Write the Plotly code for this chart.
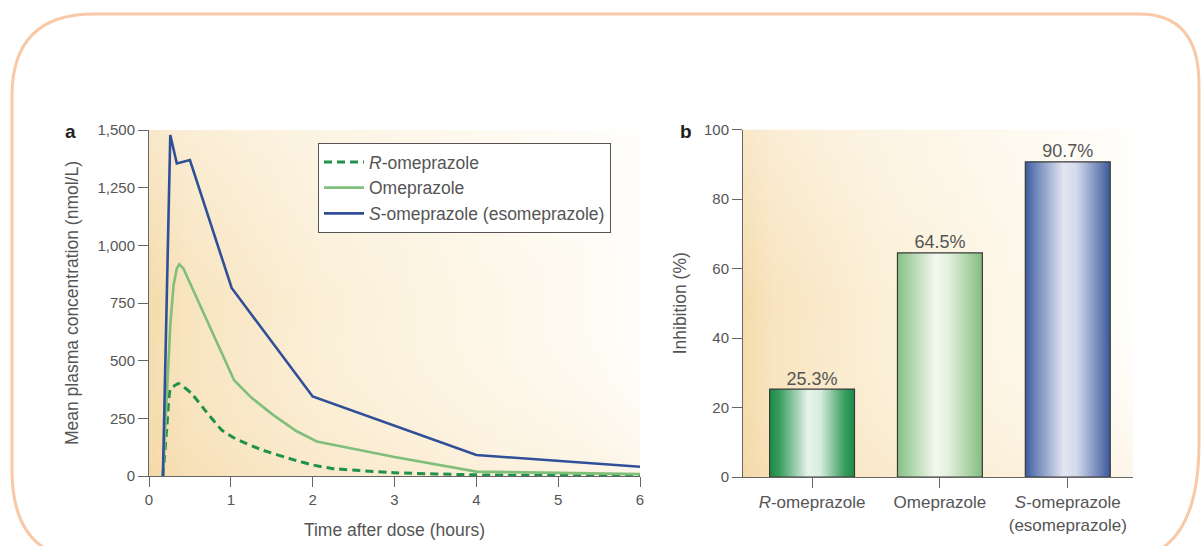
import base64
import plotly.graph_objects as go

W, H = 1201, 546

# ---------------- data ----------------
# Panel a: mean plasma concentration (nmol/L) vs time after dose (hours)
t_r = [0.17, 0.22, 0.26, 0.36, 0.52, 0.70, 0.89, 1.05, 1.38, 1.78, 2.0, 2.23, 3.0, 4.0, 5.0, 6.0]
c_r = [0, 220, 375, 401, 358, 278, 199, 163, 113, 69, 48, 33, 14, 5, 2, 0]

t_o = [0.17, 0.22, 0.26, 0.30, 0.34, 0.37, 0.42, 1.04, 1.25, 1.52, 1.8, 2.05, 3.0, 4.0, 5.0, 6.0]
c_o = [0, 380, 654, 826, 900, 918, 900, 415, 340, 264, 195, 150, 82, 19, 12, 8]

t_s = [0.17, 0.26, 0.34, 0.5, 1.01, 2.0, 4.0, 6.0]
c_s = [0, 1478, 1355, 1370, 815, 345, 91, 40]

series_names = ["<i>R</i>-omeprazole", "Omeprazole", "<i>S</i>-omeprazole (esomeprazole)"]

x_ticks_a = [0, 1, 2, 3, 4, 5, 6]
y_ticks_a = [0, 250, 500, 750, 1000, 1250, 1500]

# Panel b: inhibition (%)
bar_categories = ["<i>R</i>-omeprazole", "Omeprazole", "<i>S</i>-omeprazole<br>(esomeprazole)"]
bar_values = [25.3, 64.5, 90.7]
bar_labels = ["25.3%", "64.5%", "90.7%"]
y_ticks_b = [0, 20, 40, 60, 80, 100]

# ---------------- styling ----------------
FONT = "Liberation Sans, Arial, Helvetica, sans-serif"
TXT = "#555555"
AX = "#666666"

def px(x):
    return x / W

def py(y):
    return 1 - y / H

dom_ax = [px(149), px(640)]
dom_ay = [py(476), py(130)]
dom_bx = [px(743), px(1133)]
dom_by = [py(477), py(129.5)]

fig = go.Figure()

# panel a lines
fig.add_trace(go.Scatter(x=t_r, y=c_r, mode="lines", name=series_names[0],
                         line=dict(color="#1f9148", width=3, dash="8px,5px", shape="spline", smoothing=0.4),
                         xaxis="x", yaxis="y"))
fig.add_trace(go.Scatter(x=t_o, y=c_o, mode="lines", name=series_names[1],
                         line=dict(color="#7fbf7b", width=2.6),
                         xaxis="x", yaxis="y"))
fig.add_trace(go.Scatter(x=t_s, y=c_s, mode="lines", name=series_names[2],
                         line=dict(color="#2f4f98", width=2.6),
                         xaxis="x", yaxis="y"))

# panel b bars (gradient-filled rectangles built from the values)
bar_scales = [
    [[0, "#1b8a48"], [0.12, "#3a9e5e"], [0.45, "#e6f3ea"], [0.6, "#d7ecdd"], [0.88, "#3a9e5e"], [1, "#1b8a48"]],
    [[0, "#86c083"], [0.12, "#a3d0a0"], [0.45, "#f2f8ee"], [0.6, "#e3f0df"], [0.88, "#9fcd9b"], [1, "#82bd7f"]],
    [[0, "#3c5b9c"], [0.12, "#6d84b8"], [0.45, "#e2e6f2"], [0.6, "#d4daec"], [0.88, "#6a81b5"], [1, "#3a5899"]],
]
half_w = 0.332
for i, v in enumerate(bar_values):
    fig.add_trace(go.Scatter(
        x=[i - half_w, i - half_w, i + half_w, i + half_w, i - half_w],
        y=[0, v, v, 0, 0],
        mode="lines", fill="toself",
        fillgradient=dict(type="horizontal", colorscale=bar_scales[i]),
        line=dict(color="#3a3a3a", width=1.2),
        showlegend=False, hoverinfo="skip",
        xaxis="x2", yaxis="y2"))

fig.add_trace(go.Scatter(x=[0, 1, 2], y=bar_values, mode="text", text=bar_labels,
                         textposition="top center",
                         textfont=dict(family=FONT, size=18, color=TXT),
                         showlegend=False, hoverinfo="skip", xaxis="x2", yaxis="y2"))

# background gradient (SVG data URI)
svg = ("<svg xmlns='http://www.w3.org/2000/svg' width='200' height='200' viewBox='0 0 200 200' preserveAspectRatio='none'>"
       "<defs><linearGradient id='g' x1='0' y1='0' x2='1' y2='0'>"
       "<stop offset='0' stop-color='#f5dbab'/>"
       "<stop offset='0.08' stop-color='#f8e4bf'/>"
       "<stop offset='0.35' stop-color='#fbefd6'/>"
       "<stop offset='0.65' stop-color='#fdf6e6'/>"
       "<stop offset='0.9' stop-color='#fefbf3'/>"
       "<stop offset='1' stop-color='#fffefb'/>"
       "</linearGradient>"
       "<linearGradient id='v' x1='0' y1='0' x2='0' y2='1'>"
       "<stop offset='0' stop-color='#ffffff' stop-opacity='0.35'/>"
       "<stop offset='0.5' stop-color='#ffffff' stop-opacity='0'/>"
       "<stop offset='1' stop-color='#f3cf98' stop-opacity='0.18'/>"
       "</linearGradient></defs>"
       "<rect width='200' height='200' fill='url(#g)'/>"
       "<rect width='200' height='200' fill='url(#v)'/></svg>")
src = "data:image/svg+xml;base64," + base64.b64encode(svg.encode()).decode()

images = []
for dx, dy in [(dom_ax, dom_ay), (dom_bx, dom_by)]:
    images.append(dict(source=src, xref="paper", yref="paper", x=dx[0], y=dy[1],
                       sizex=dx[1] - dx[0], sizey=dy[1] - dy[0], sizing="stretch",
                       xanchor="left", yanchor="top", layer="below"))

# rounded border
def P(x, y):
    return f"{px(x):.5f},{py(y):.5f}"

x0, x1, y0, y1 = 12, 1199, 14, 560
path = ("M " + P(x0 + 82, y0) + " L " + P(x1 - 60, y0) +
        " Q " + P(x1, y0) + " " + P(x1, y0 + 70) +
        " L " + P(x1, 443) +
        " Q " + P(x1, y1) + " " + P(x1 - 79, y1) +
        " L " + P(x0 + 80, y1) +
        " Q " + P(x0, y1) + " " + P(x0, y1 - 90) +
        " L " + P(x0, y0 + 82) +
        " Q " + P(x0, y0) + " " + P(x0 + 82, y0) + " Z")
shapes = [dict(type="path", path=path, xref="paper", yref="paper",
               line=dict(color="#f8c9a6", width=3), fillcolor="rgba(0,0,0,0)", layer="below")]

axis_common = dict(showgrid=False, zeroline=False, showline=True, linecolor=AX, linewidth=1,
                   ticks="outside", ticklen=10, tickcolor=AX, tickwidth=1, automargin=False,
                   tickfont=dict(family=FONT, size=15, color=TXT))

fig.update_layout(
    width=W, height=H,
    margin=dict(l=0, r=0, t=0, b=0, pad=0),
    paper_bgcolor="white", plot_bgcolor="rgba(0,0,0,0)",
    font=dict(family=FONT, color=TXT),
    images=images, shapes=shapes,
    xaxis=dict(domain=dom_ax, range=[0, 6], tickvals=x_ticks_a, anchor="y",
               title=dict(text="Time after dose (hours)", font=dict(family=FONT, size=17.5, color=TXT), standoff=16),
               **axis_common),
    yaxis=dict(domain=dom_ay, range=[0, 1500], tickvals=y_ticks_a, tickformat=",", anchor="x",
               title=dict(text="Mean plasma concentration (nmol/L)", font=dict(family=FONT, size=17.5, color=TXT), standoff=14),
               **axis_common),
    xaxis2=dict(domain=dom_bx, range=[-0.54, 2.51], tickvals=[0, 1, 2], ticktext=bar_categories, anchor="y2",
                **{**axis_common, "tickfont": dict(family=FONT, size=17, color=TXT)}),
    yaxis2=dict(domain=dom_by, range=[0, 100], tickvals=y_ticks_b, anchor="x2",
                title=dict(text="Inhibition (%)", font=dict(family=FONT, size=17.5, color=TXT), standoff=12),
                **axis_common),
    legend=dict(x=px(318), y=py(143), xanchor="left", yanchor="top",
                bgcolor="white", bordercolor="#555555", borderwidth=1,
                font=dict(family=FONT, size=17.5, color=TXT), itemwidth=40,
                tracegroupgap=0),
    annotations=[
        dict(text="<b>a</b>", x=px(70), y=py(131), xref="paper", yref="paper", showarrow=False,
             xanchor="center", yanchor="middle",
             font=dict(family=FONT, size=19, color="#222222")),
        dict(text="<b>b</b>", x=px(686), y=py(131), xref="paper", yref="paper", showarrow=False,
             xanchor="center", yanchor="middle",
             font=dict(family=FONT, size=19, color="#222222")),
    ],
)

fig.write_html("out.html")
